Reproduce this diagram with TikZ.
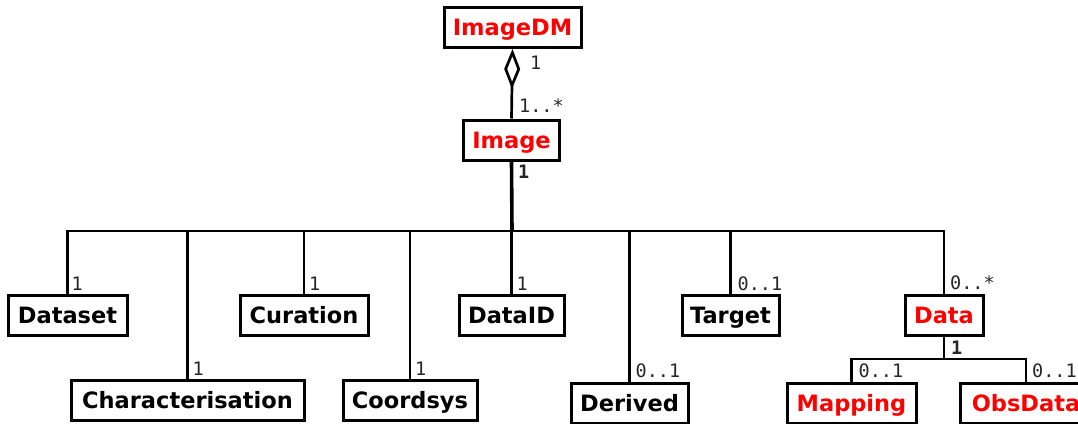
\documentclass[tikz,border=0pt]{standalone}
\usepackage{fontspec}
\setmainfont{DejaVu Sans}
\newfontfamily\monof{DejaVu Sans Mono}
\usetikzlibrary{arrows.meta}
\begin{document}
\begin{tikzpicture}[x=1pt,y=-1pt,
  cls/.style={draw=black, line width=3pt, fill=white, inner sep=0pt, minimum height=40pt,
    text height=16.5pt, text depth=0pt,
    font=\bfseries\fontsize{22.5}{22.5}\selectfont},
  red cls/.style={cls, text=red},
  conn/.style={line width=2.7pt},
  mult/.style={font=\monof\fontsize{18.5}{18.5}\selectfont, text=black!85, inner sep=0pt},
  multb/.style={mult, font=\monof\bfseries\fontsize{18.5}{18.5}\selectfont},
]
\useasboundingbox (0,0) rectangle (1078,423);
\clip (0,0) rectangle (1078,423);
% classes
\node[red cls, minimum width=137pt] (ImageDM) at (512.5,27.5) {ImageDM};
\node[red cls, minimum width=96pt] (Image) at (511.5,140) {Image};
\node[cls, minimum width=119pt] (Dataset) at (67.5,315) {Dataset};
\node[cls, minimum width=233pt] (Char) at (187.5,400.5) {Characterisation};
\node[cls, minimum width=128pt] (Curation) at (304,315) {Curation};
\node[cls, minimum width=134pt] (Coordsys) at (410,400.5) {Coordsys};
\node[cls, minimum width=105pt] (DataID) at (511.5,315) {DataID};
\node[cls, minimum width=117pt] (Derived) at (629.5,403) {Derived};
\node[cls, minimum width=97pt] (Target) at (730.5,315) {Target};
\node[red cls, minimum width=78pt] (Data) at (944,315) {Data};
\node[red cls, minimum width=129pt] (Mapping) at (851.5,403) {Mapping};
\node[red cls, minimum width=132pt] (ObsData) at (1026,403) {ObsData};
% aggregation
\draw[conn, -{Diamond[open, length=40pt, width=16pt, line width=2.7pt]}] (Image.north) -- (ImageDM.south);
\node[mult, anchor=north west] (m1) at (530,56) {1};
\node[mult, anchor=south west] (m2) at (519,113) {1..*};
% bus below Image
\coordinate (bus) at (512,231);
\draw[line width=3.6pt] (Image.south) -- (bus);
\node[multb, anchor=north west] (m3) at (518,165) {1};
\foreach \c in {Dataset, Char, Curation, Coordsys, DataID, Derived, Target, Data}
  \draw[conn] (bus) -| (\c.north);
\node[mult, anchor=south west] (l1) at ([xshift=4pt,yshift=3pt]Dataset.north) {1};
\node[mult, anchor=south west] (l2) at ([xshift=5pt,yshift=3pt]Char.north) {1};
\node[mult, anchor=south west] (l3) at ([xshift=5pt,yshift=3pt]Curation.north) {1};
\node[mult, anchor=south west] (l4) at ([xshift=5pt,yshift=3pt]Coordsys.north) {1};
\node[mult, anchor=south west] (l5) at ([xshift=5pt,yshift=3pt]DataID.north) {1};
\node[mult, anchor=south west] (l6) at ([xshift=6pt,yshift=4pt]Derived.north) {0..1};
\node[mult, anchor=south west] (l7) at ([xshift=7pt,yshift=3pt]Target.north) {0..1};
\node[mult, anchor=south west] (l8) at ([xshift=6pt,yshift=4pt]Data.north) {0..*};
% Data subtree
\coordinate (dbus) at (944,359);
\draw[conn] (Data.south) -- (dbus);
\node[multb, anchor=north west] (m4) at (951,341) {1};
\draw[conn] (dbus) -| (Mapping.north);
\draw[conn] (dbus) -| (ObsData.north);
\node[mult, anchor=south west] (l9) at ([xshift=7pt,yshift=4pt]Mapping.north) {0..1};
\node[mult, anchor=south west] (l10) at ([xshift=6pt,yshift=4pt]ObsData.north) {0..1};
\end{tikzpicture}
\end{document}
